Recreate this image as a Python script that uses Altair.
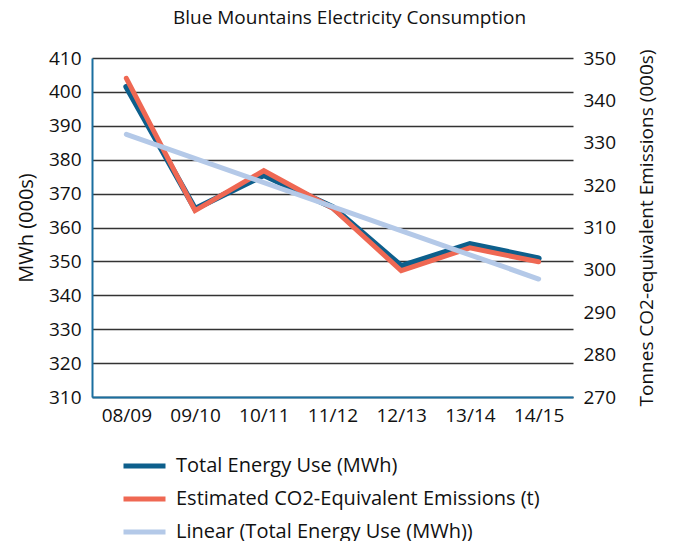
import altair as alt
import pandas as pd

years = ["08/09", "09/10", "10/11", "11/12", "12/13", "13/14", "14/15"]
energy_mwh = [401.5, 365.5, 375.5, 366.0, 348.6, 355.1, 350.9]
co2_t = [345.2, 314.0, 323.4, 314.6, 299.8, 305.2, 301.9]
trend_years = ["08/09", "14/15"]
trend_mwh = [387.5, 344.8]

s_energy = "Total Energy Use (MWh)"
s_co2 = "Estimated CO2-Equivalent Emissions (t)"
s_trend = "Linear (Total Energy Use (MWh))"

df_e = pd.DataFrame({"year": years, "value": energy_mwh, "series": s_energy})
df_c = pd.DataFrame({"year": years, "value": co2_t, "series": s_co2})
df_t = pd.DataFrame({"year": trend_years, "value": trend_mwh, "series": s_trend})

FONT = "Open Sans"
color = alt.Color(
    "series:N",
    scale=alt.Scale(domain=[s_energy, s_co2, s_trend],
                    range=["#0d5f8c", "#ef6853", "#b4c9e8"]),
    legend=alt.Legend(
        title=None, orient="none", legendX=29, legendY=394, direction="vertical",
        symbolType="stroke", symbolSize=1764, symbolStrokeWidth=5,
        labelFontSize=20, labelFont=FONT, labelColor="#111", labelOffset=8,
        clipHeight=28, rowPadding=5, labelLimit=500, padding=0,
    ),
)

x = alt.X("year:N", sort=years, scale=alt.Scale(type="point", padding=0.5),
          axis=alt.Axis(title=None, labelAngle=0, labelFontSize=19, labelFont=FONT,
                        labelColor="#111", ticks=False, domainColor="#1a6fa0",
                        domainWidth=2, labelPadding=9, grid=False))

blue = alt.Chart(df_e).mark_line(strokeWidth=6, strokeCap="round").encode(
    x=x,
    y=alt.Y("value:Q", scale=alt.Scale(domain=[310, 410], nice=False, zero=False),
            axis=alt.Axis(title="MWh (000s)", orient="left", values=list(range(310, 411, 10)),
                          labelFontSize=19, labelFont=FONT, labelColor="#111", ticks=False,
                          domainColor="#1a6fa0", domainWidth=2, labelPadding=11,
                          grid=True, gridColor="#333", gridWidth=1.5,
                          titleFontSize=20, titleFont=FONT, titleFontWeight="normal",
                          titleColor="#111", titlePadding=12)),
    color=color,
)

red = alt.Chart(df_c).mark_line(strokeWidth=5, strokeCap="round").encode(
    x=x,
    y=alt.Y("value:Q", scale=alt.Scale(domain=[270, 350], nice=False, zero=False),
            axis=alt.Axis(title="Tonnes CO2-equivalent Emissions (000s)", orient="right",
                          values=list(range(270, 351, 10)), labelFontSize=19, labelFont=FONT,
                          labelColor="#111", ticks=False, domain=False, labelPadding=10,
                          grid=False, titleFontSize=19, titleFont=FONT,
                          titleFontWeight="normal", titleColor="#111", titleAngle=270,
                          titleBaseline="top", titlePadding=22)),
    color=color,
)

trend = alt.Chart(df_t).mark_line(strokeWidth=5, strokeCap="round").encode(
    x=x,
    y=alt.Y("value:Q", scale=alt.Scale(domain=[310, 410], nice=False, zero=False), axis=None),
    color=color,
)

chart = alt.layer(blue, red, trend).resolve_scale(y="independent").properties(
    width=481, height=339,
    autosize=alt.AutoSizeParams(type="none"),
    padding={"left": 84, "top": 50, "right": 94, "bottom": 144},
    title=alt.TitleParams("Blue Mountains Electricity Consumption", fontSize=19,
                          fontWeight="normal", font=FONT, color="#111", anchor="middle",
                          dx=17, offset=21),
).configure_view(stroke=None)

chart.save("out.html", embed_options={"renderer": "svg", "actions": False})
